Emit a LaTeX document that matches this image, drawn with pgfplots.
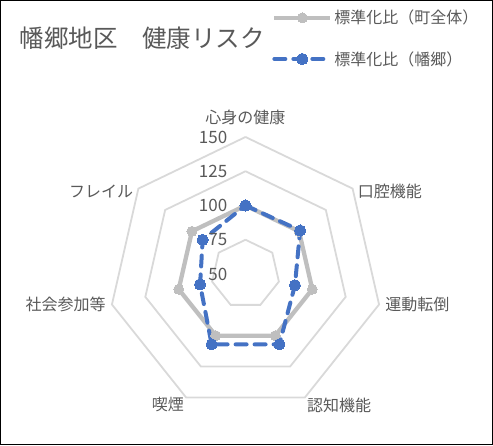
\documentclass[border=0pt]{standalone}
\usepackage{fontspec}
\setmainfont{Noto Sans CJK JP}
\usepackage{pgfplots}
\usepackage{pgfplotstable}
\pgfplotsset{compat=1.18}
\usepgfplotslibrary{polar}

\definecolor{gridc}{HTML}{D9D9D9}
\definecolor{townc}{HTML}{BFBFBF}
\definecolor{localc}{HTML}{4472C4}
\definecolor{txt}{HTML}{595959}

% idx 0..6 = 心身の健康, 口腔機能, 運動転倒, 認知機能, 喫煙, 社会参加等, フレイル (7 = back to start)
\pgfplotstableread{
idx town local
0 100 100
1 100 101
2 100 87
3 100 107
4 100 107
5 100 84
6 100 90
7 100 100
}\riskdata

\begin{document}
\begin{tikzpicture}
\path[use as bounding box] (0,0) rectangle (493pt,-445pt);
\draw[black, line width=1.2pt] (0.6pt,-0.6pt) rectangle (492.4pt,-444.4pt);
\node[anchor=west, text=txt, font=\fontsize{24.5}{27}\selectfont] at (16pt,-38.5pt) {幡郷地区　健康リスク};
\begin{polaraxis}[
  at={(245.5pt,-274pt)}, anchor=center,
  scale only axis, width=274pt, height=274pt,
  xmin=0, xmax=360, ymin=0, ymax=100,
  hide axis, clip=false,
  x filter/.expression={mod(450-x*360/7,360)},
  y filter/.expression={y-50},
  legend style={at={(0.5967,1.4708)}, anchor=north west, draw=none, fill=none,
    inner sep=0pt, row sep=22pt, font=\fontsize{16}{18}\selectfont, text=txt,
    /tikz/every even column/.append style={column sep=6pt}},
  legend cell align=left,
  legend image code/.code={\draw[mark repeat=2,mark phase=2,#1] plot coordinates {(-3pt,0pt) (25pt,0pt) (53pt,0pt)};},
]
% grid rings 75, 100, 125, 150
\addplot[gridc, line width=1.8pt, forget plot] coordinates {(0,75) (1,75) (2,75) (3,75) (4,75) (5,75) (6,75) (7,75)};
\addplot[gridc, line width=1.8pt, forget plot] coordinates {(0,100) (1,100) (2,100) (3,100) (4,100) (5,100) (6,100) (7,100)};
\addplot[gridc, line width=1.8pt, forget plot] coordinates {(0,125) (1,125) (2,125) (3,125) (4,125) (5,125) (6,125) (7,125)};
\addplot[gridc, line width=1.8pt, forget plot] coordinates {(0,150) (1,150) (2,150) (3,150) (4,150) (5,150) (6,150) (7,150)};

\addplot[townc, line width=4.3pt, line join=round, mark=*, mark size=5pt,
  mark options={townc, fill=townc, line width=0pt}]
  table[x=idx, y=town] {\riskdata};
\addlegendentry{標準化比（町全体）}
\addplot[localc, line width=4pt, line cap=round, dash pattern=on 11pt off 8pt, mark=*, mark size=5.6pt,
  mark options={solid, localc, fill=localc, line width=0pt}]
  table[x=idx, y=local] {\riskdata};
\addlegendentry{標準化比（幡郷）}

% radial tick labels
\begin{scope}[every node/.style={anchor=east, text=txt, font=\fontsize{17}{19}\selectfont, inner sep=0pt}]
\node at ([xshift=-18pt]axis cs:90,0) {50};
\node at ([xshift=-18pt]axis cs:90,25) {75};
\node at ([xshift=-18pt]axis cs:90,50) {100};
\node at ([xshift=-18pt]axis cs:90,75) {125};
\node at ([xshift=-18pt]axis cs:90,100) {150};
\end{scope}
% category labels
\begin{scope}[every node/.style={text=txt, font=\fontsize{16}{18}\selectfont, inner sep=0pt}]
\node[anchor=south] at ([yshift=12pt]axis cs:90,100) {心身の健康};
\node[anchor=west] at ([xshift=5pt,yshift=-3pt]axis cs:38.571,100) {口腔機能};
\node[anchor=west] at ([xshift=6pt]axis cs:347.143,100) {運動転倒};
\node[anchor=north west] at ([xshift=2pt,yshift=0pt]axis cs:295.714,100) {認知機能};
\node[anchor=north east] at ([xshift=-2pt,yshift=0pt]axis cs:244.286,100) {喫煙};
\node[anchor=east] at ([xshift=-6pt]axis cs:192.857,100) {社会参加等};
\node[anchor=east] at ([xshift=-5pt,yshift=-3pt]axis cs:141.429,100) {フレイル};
\end{scope}
\end{polaraxis}
\end{tikzpicture}
\end{document}
